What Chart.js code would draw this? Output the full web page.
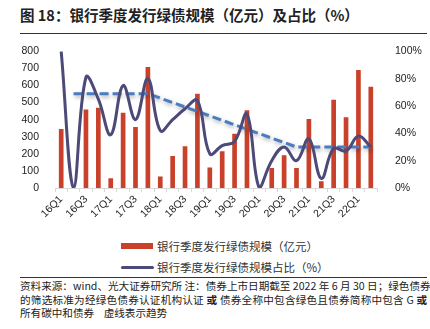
<!DOCTYPE html>
<html>
<head>
<meta charset="utf-8">
<script src="https://cdn.jsdelivr.net/npm/chart.js@4/dist/chart.umd.min.js"></script>
<style>
  body { margin: 0; width: 430px; height: 329px; background: #fff; position: relative; overflow: hidden;
         font-family: "Noto Sans CJK SC", "Noto Sans", sans-serif; }
  .title { position: absolute; left: 20px; top: 4px; font-size: 14.5px; font-weight: bold; color: #222; white-space: nowrap; }
  .rule { position: absolute; left: 20px; width: 407px; height: 1px; background: #333; }
  .chartBox { position: absolute; left: 0; top: 35px; width: 430px; height: 200px; }
  .legend { position: absolute; left: 121px; font-size: 11.5px; color: #333; }
  .legend div { position: relative; height: 21px; line-height: 21px; padding-left: 36px; white-space: nowrap; }
  .sw-bar { position: absolute; left: 0; top: 7px; width: 32px; height: 6px; background: #c9412a; }
  .sw-line { position: absolute; left: 0; top: 9px; width: 33px; height: 3px; border-radius: 2px; background: #4b4a78; }
  .note { position: absolute; left: 20px; top: 279px; width: 407px; font-size: 10.6px; line-height: 13.5px; color: #222; }
  .note div { text-align: justify; text-align-last: justify; white-space: nowrap; }
  .note div.last { text-align-last: left; }
</style>
</head>
<body>
<div class="title">图 18：银行季度发行绿债规模（亿元）及占比（%）</div>
<div class="rule" style="top:33px"></div>
<div class="chartBox"><canvas id="chart" width="430" height="200"></canvas></div>
<div class="legend" style="top:236px">
  <div><span class="sw-bar"></span>银行季度发行绿债规模（亿元）</div>
  <div><span class="sw-line"></span>银行季度发行绿债规模占比（%）</div>
</div>
<div class="rule" style="top:277px"></div>
<div class="note">
  <div>资料来源：wind、光大证券研究所 注：债券上市日期截至 2022 年 6 月 30 日；绿色债券</div>
  <div>的筛选标准为经绿色债券认证机构认证 <b>或</b> 债券全称中包含绿色且债券简称中包含 G <b>或</b></div>
  <div class="last">所有碳中和债券&nbsp;&nbsp;&nbsp;&nbsp;虚线表示趋势</div>
</div>
<script>
// quarters 16Q1 .. 22Q2
const quarters = ['16Q1','16Q2','16Q3','16Q4','17Q1','17Q2','17Q3','17Q4','18Q1','18Q2','18Q3','18Q4','19Q1',
  '19Q2','19Q3','19Q4','20Q1','20Q2','20Q3','20Q4','21Q1','21Q2','21Q3','21Q4','22Q1','22Q2'];

// issuance, 亿元
const issuance = [345, 0, 460, 470, 57, 441, 357, 708, 67, 188, 245, 551, 120,
  215, 318, 455, 0, 117, 191, 117, 404, 40, 516, 414, 690, 592];

// share of total, %
const share = [100, 0, 81, 65, 39, 75, 50, 80, 42, 50, 58, 64, 25,
  31, 34, 54, 0, 20, 30, 20, 36, 7, 29, 27, 38, 30];

// dashed trend (%), only the corner points
const trend = [null, 69, null, null, null, null, null, 69, null, null, null, null, null,
  null, null, null, null, null, null, 30, null, null, null, null, null, 30];

const leftTicks = [0, 100, 200, 300, 400, 500, 600, 700, 800];

const tickFont = { family: 'Liberation Sans, Arial, sans-serif', size: 10.5 };

// soft shadow under the trend line
const shadowPlugin = {
    id: 'trendShadow',
    beforeDatasetDraw(chart, args) {
        if (args.index === 1) {
            chart.ctx.save();
            chart.ctx.shadowColor = 'rgba(0,0,0,0.35)';
            chart.ctx.shadowBlur = 4;
            chart.ctx.shadowOffsetX = 1;
            chart.ctx.shadowOffsetY = 2;
        }
    },
    afterDatasetDraw(chart, args) {
        if (args.index === 1) chart.ctx.restore();
    }
};

new Chart(document.getElementById('chart'), {
    type: 'bar',
    data: {
        labels: quarters,
        datasets: [{
            label: '银行季度发行绿债规模（亿元）',
            data: issuance,
            backgroundColor: '#c9412a',
            barPercentage: 0.9,
            categoryPercentage: 0.42,
            yAxisID: 'y',
            order: 3
        }, {
            type: 'line',
            label: 'trend',
            data: trend,
            spanGaps: true,
            borderColor: '#4a7dc0',
            borderWidth: 3,
            borderDash: [9, 4],
            pointRadius: 0,
            tension: 0,
            yAxisID: 'y1',
            order: 2
        }, {
            type: 'line',
            label: '银行季度发行绿债规模占比（%）',
            data: share,
            borderColor: '#4b4a78',
            borderWidth: 3,
            pointRadius: 0,
            tension: 0.4,
            yAxisID: 'y1',
            order: 1
        }]
    },
    options: {
        responsive: false,
        animation: false,
        layout: { padding: { top: 16, left: 0, right: 0, bottom: 0 } },
        plugins: { legend: { display: false }, tooltip: { enabled: false } },
        scales: {
            x: {
                grid: { display: true, drawOnChartArea: false, offset: true, color: '#d9d9d9', tickLength: 4 },
                border: { color: '#d9d9d9' },
                ticks: {
                    autoSkip: false, maxRotation: 45, minRotation: 45, color: '#222', font: tickFont, padding: 1,
                    callback: (v, i) => (i % 2 === 0 ? quarters[i] : '')
                },
                afterFit: (s) => { s.height = 47; }
            },
            y: {
                position: 'left', min: 0, max: 800,
                afterBuildTicks: (s) => { s.ticks = leftTicks.map(v => ({ value: v })); },
                grid: { display: false },
                border: { display: false },
                ticks: { color: '#222', font: tickFont, padding: 8 },
                afterFit: (s) => { s.width = 55; }
            },
            y1: {
                position: 'right', min: 0, max: 100,
                grid: { display: false },
                border: { display: false },
                ticks: { stepSize: 20, color: '#222', font: tickFont, padding: 10, callback: v => v + '%' },
                afterFit: (s) => { s.width = 53; }
            }
        }
    },
    plugins: [shadowPlugin]
});
</script>
</body>
</html>
